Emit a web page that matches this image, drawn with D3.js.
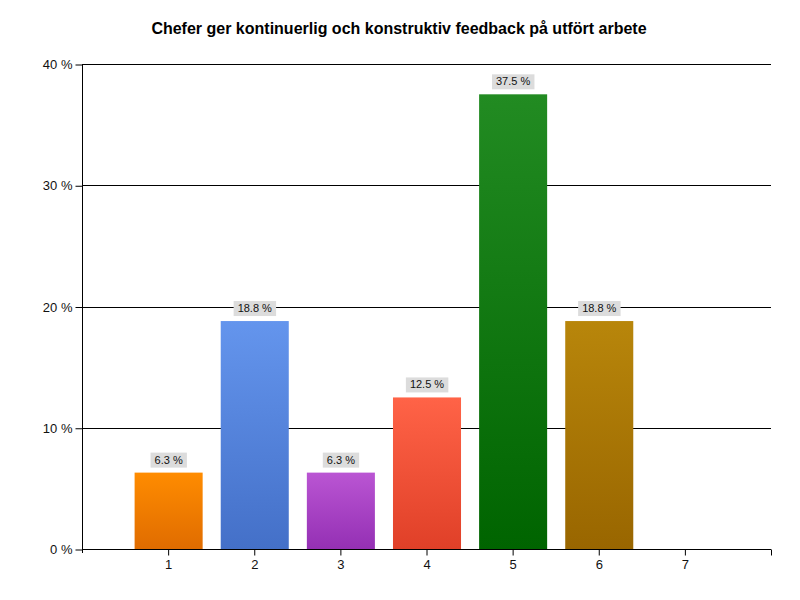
<!DOCTYPE html>
<html><head><meta charset="utf-8">
<script src="https://cdn.jsdelivr.net/npm/d3@7"></script>
<style>body{margin:0;background:#fff}</style>
</head><body>
<script>
const categories = [1, 2, 3, 4, 5, 6, 7];
const values = [6.3, 18.8, 6.3, 12.5, 37.5, 18.8, null];
const labels = ["6.3 %", "18.8 %", "6.3 %", "12.5 %", "37.5 %", "18.8 %", null];
const topColors = ["#ff8c00", "#6495ed", "#ba55d3", "#ff6347", "#228b22", "#b8860b"];
const bottomColors = ["#e06c00", "#4470c8", "#9430b4", "#e04028", "#006400", "#996600"];
const yTicks = [0, 10, 20, 30, 40];
const title = "Chefer ger kontinuerlig och konstruktiv feedback på utfört arbete";

const W = 800, H = 600;
const m = {left: 82, right: 29, top: 64, bottom: 51};
const svg = d3.select("body").append("svg").attr("width", W).attr("height", H)
  .style("font-family", "Arial, 'Liberation Sans', sans-serif");

const x = d3.scaleLinear().domain([0, 8]).range([m.left, W - m.right]);
const y = d3.scaleLinear().domain([0, 40]).range([H - m.bottom, m.top]);

const defs = svg.append("defs");
topColors.forEach((c, i) => {
  const g = defs.append("linearGradient").attr("id", "g" + i)
    .attr("x1", 0).attr("y1", 0).attr("x2", 0).attr("y2", 1);
  g.append("stop").attr("offset", "0%").attr("stop-color", c);
  g.append("stop").attr("offset", "100%").attr("stop-color", bottomColors[i]);
});

svg.append("text").attr("x", 399).attr("y", 34).attr("text-anchor", "middle")
  .attr("font-weight", "bold").attr("font-size", 16).text(title);

// gridlines
svg.append("g").selectAll("line").data(yTicks.slice(1)).join("line")
  .attr("x1", m.left).attr("x2", W - m.right)
  .attr("y1", d => Math.round(y(d)) + 0.5).attr("y2", d => Math.round(y(d)) + 0.5)
  .attr("stroke", "#000").attr("stroke-width", 1);

const bw = (x(1) - x(0)) * 0.79;
const data = categories.map((c, i) => ({c, v: values[i], l: labels[i], i})).filter(d => d.v != null);

svg.append("g").selectAll("rect").data(data).join("rect")
  .attr("x", d => x(d.c) - bw / 2 + 0.5).attr("width", bw)
  .attr("y", d => y(d.v)).attr("height", d => y(0) - y(d.v))
  .attr("fill", d => `url(#g${d.i})`);

const lg = svg.append("g").selectAll("g").data(data).join("g")
  .attr("transform", d => `translate(${x(d.c) + 0.5},${y(d.v) - 5})`);
lg.each(function(d) {
  const g = d3.select(this);
  const t = g.append("text").attr("text-anchor", "middle").attr("y", -4)
    .attr("font-size", 11).attr("fill", "#111").text(d.l);
  const bb = t.node().getBBox();
  g.insert("rect", "text").attr("x", bb.x - 4).attr("width", bb.width + 8)
    .attr("y", -15).attr("height", 15).attr("fill", "#dcdcdc");
});

// y axis
const yAxis = d3.axisLeft(y).tickValues(yTicks).tickFormat(d => d + " %").tickSize(7).tickPadding(3);
const ya = svg.append("g").attr("transform", `translate(${m.left + 0.5},0)`).call(yAxis);
ya.select(".domain").remove();
ya.append("line").attr("y1", m.top).attr("y2", y(0) + 4).attr("stroke", "#000");
ya.selectAll(".tick line").attr("transform", "translate(0,0.5)");
ya.selectAll("text").attr("font-size", 13).attr("fill", "#111").attr("font-family", null).attr("dy", "0.35em");

// x axis
const xAxis = d3.axisBottom(x).tickValues(categories.concat([8])).tickFormat(d => d === 8 ? "" : d).tickSize(6).tickPadding(4);
const xa = svg.append("g").attr("transform", `translate(0,${Math.round(y(0)) + 0.5})`).call(xAxis);
xa.select(".domain").attr("d", `M${m.left},0H${W - m.right}`);
xa.selectAll("text").attr("font-size", 13).attr("fill", "#111").attr("font-family", null);
</script>
</body></html>
